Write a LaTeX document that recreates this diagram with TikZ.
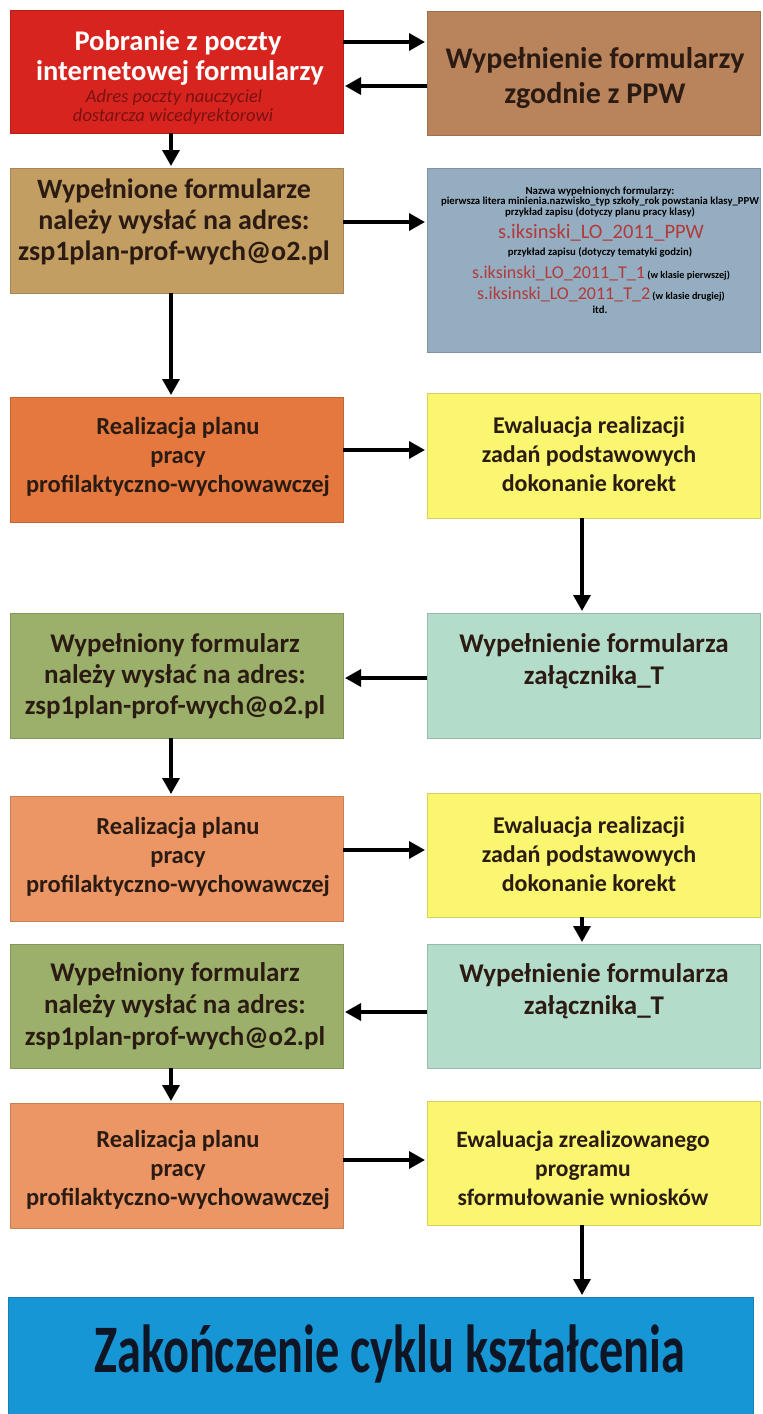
\documentclass[tikz,border=0pt]{standalone}
\usepackage{fontspec}
\setmainfont{Carlito}
\usepackage{graphicx}
\usetikzlibrary{arrows.meta}
\definecolor{cRed}{HTML}{D8241E}
\definecolor{cBrown}{HTML}{B9845C}
\definecolor{cTan}{HTML}{C39E62}
\definecolor{cInfo}{HTML}{95ADC1}
\definecolor{cOrange}{HTML}{E4783E}
\definecolor{cYellow}{HTML}{FAF670}
\definecolor{cGreen}{HTML}{9BB06A}
\definecolor{cTeal}{HTML}{B3DCCB}
\definecolor{cSalmon}{HTML}{EB9664}
\definecolor{cBlue}{HTML}{1796D6}
\definecolor{tDark}{HTML}{2B1B12}
\definecolor{tItal}{HTML}{7A1212}
\definecolor{tInfoRed}{HTML}{B23A3A}
\definecolor{tBlue}{HTML}{0E1626}
\newcommand\fs[1]{\fontsize{#1}{#1}\selectfont}
\begin{document}
\begin{tikzpicture}[x=1pt,y=-1pt,
  box/.style={rectangle, inner sep=0pt, outer sep=0pt, minimum width=333pt,
    minimum height=125pt, fill=#1, draw=#1!85!black, line width=0.6pt},
  tl/.style={anchor=base, inner sep=0pt, outer sep=0pt, text=tDark},
  tb/.style={tl, font=\bfseries\fs{28}},
  tr/.style={tl, font=\bfseries\fs{24.5}},
  ty/.style={tl, font=\bfseries\fs{24}},
  tz/.style={tl, font=\bfseries\fs{23.5}},
  tg/.style={tl, font=\bfseries\fs{27}},
  ib/.style={tl, text=black, font=\bfseries\fs{10.7}},
  arr/.style={line width=3.4pt, -{Triangle[length=16pt,width=17pt]}, shorten >=2pt}]
\useasboundingbox (0,0) rectangle (763,1414);
\fill[white] (0,0) rectangle (763,1414);

% boxes
\node[box=cRed, minimum height=123pt] (red) at (176.5,71.5) {};
\node[box=cBrown, minimum height=124pt] (brown) at (593.5,73) {};
\node[box=cTan] (tan) at (176.5,230.5) {};
\node[box=cInfo, minimum height=184pt] (info) at (593.5,260) {};
\node[box=cOrange] (or1) at (176.5,459.5) {};
\node[box=cYellow] (ye1) at (593.5,455.5) {};
\node[box=cGreen] (gr1) at (176.5,675.5) {};
\node[box=cTeal] (te1) at (593.5,675.5) {};
\node[box=cSalmon] (sa1) at (176.5,858.5) {};
\node[box=cYellow, minimum height=124pt] (ye2) at (593.5,855) {};
\node[box=cGreen, minimum height=124pt] (gr2) at (176.5,1006) {};
\node[box=cTeal, minimum height=124pt] (te2) at (593.5,1006) {};
\node[box=cSalmon] (sa2) at (176.5,1165.5) {};
\node[box=cYellow, minimum height=124pt] (ye3) at (593.5,1163) {};
\node[box=cBlue, minimum width=745pt, minimum height=117pt] (end) at (380.5,1355.5) {};

% red box text
\node[tl, text=white, font=\bfseries\fs{28.5}] (r1) at (178,50) {Pobranie z poczty};
\node[tl, text=white, font=\bfseries\fs{28.5}] (r2) at (180,80) {internetowej formularzy};
\node[tl, text=tItal, font=\itshape\fs{18.5}] (r3) at (174,102) {Adres poczty nauczyciel};
\node[tl, text=tItal, font=\itshape\fs{18.5}] (r4) at (173,121) {dostarcza wicedyrektorowi};

% brown box text
\node[tl, font=\bfseries\fs{30}] (b1) at (595,68) {Wypełnienie formularzy};
\node[tl, font=\bfseries\fs{30}] (b2) at (595,103) {zgodnie z PPW};

% tan box text
\node[tb] (t1) at (174,198) {Wypełnione formularze};
\node[tb] (t2) at (174,229) {należy wysłać na adres:};
\node[tb] (t3) at (174,260) {zsp1plan-prof-wych@o2.pl};

% info box text
\node[ib, font=\bfseries\fs{10.8}] (i1) at (600,194) {Nazwa wypełnionych formularzy:};
\node[ib] (i2) at (600,204.5) {pierwsza litera minienia.nazwisko\_typ szkoły\_rok powstania klasy\_PPW};
\node[ib] (i3) at (600,215) {przykład zapisu (dotyczy planu pracy klasy)};
\node[tl, text=tInfoRed, font=\fs{20.5}] (i4) at (601,238) {s.iksinski\_LO\_2011\_PPW};
\node[ib] (i5) at (600,255.5) {przykład zapisu (dotyczy tematyki godzin)};
\node[tl] (i6) at (601,278.5) {{\color{tInfoRed}\fs{18}s.iksinski\_LO\_2011\_T\_1} {\color{black}\bfseries\fs{10.2}(w klasie pierwszej)}};
\node[tl] (i7) at (601,299) {{\color{tInfoRed}\fs{18}s.iksinski\_LO\_2011\_T\_2} {\color{black}\bfseries\fs{10.2}(w klasie drugiej)}};
\node[ib] (i8) at (600,313.5) {itd.};

% row 3
\node[tr] (o1a) at (178,434) {Realizacja planu};
\node[tr] (o1b) at (178,463) {pracy};
\node[tr] (o1c) at (178,492) {profilaktyczno-wychowawczej};
\node[ty] (y1a) at (589,433) {Ewaluacja realizacji};
\node[ty] (y1b) at (589,462) {zadań podstawowych};
\node[ty] (y1c) at (589,491) {dokonanie korekt};

% row 4
\node[tg] (g1a) at (175,652) {Wypełniony formularz};
\node[tg] (g1b) at (175,683) {należy wysłać na adres:};
\node[tg] (g1c) at (175,714) {zsp1plan-prof-wych@o2.pl};
\node[tg] (e1a) at (594,652) {Wypełnienie formularza};
\node[tg] (e1b) at (594,684) {załącznika\_T};

% row 5
\node[tr] (o2a) at (178,834) {Realizacja planu};
\node[tr] (o2b) at (178,863) {pracy};
\node[tr] (o2c) at (178,892) {profilaktyczno-wychowawczej};
\node[ty] (y2a) at (589,833) {Ewaluacja realizacji};
\node[ty] (y2b) at (589,862) {zadań podstawowych};
\node[ty] (y2c) at (589,891) {dokonanie korekt};

% row 6
\node[tg] (g2a) at (175,981) {Wypełniony formularz};
\node[tg] (g2b) at (175,1013) {należy wysłać na adres:};
\node[tg] (g2c) at (175,1045) {zsp1plan-prof-wych@o2.pl};
\node[tg] (e2a) at (594,982) {Wypełnienie formularza};
\node[tg] (e2b) at (594,1014) {załącznika\_T};

% row 7
\node[tr] (o3a) at (178,1147) {Realizacja planu};
\node[tr] (o3b) at (178,1176) {pracy};
\node[tr] (o3c) at (178,1205) {profilaktyczno-wychowawczej};
\node[tz] (y3a) at (583,1147) {Ewaluacja zrealizowanego};
\node[tz] (y3b) at (583,1176) {programu};
\node[tz] (y3c) at (583,1205) {sformułowanie wniosków};

% final
\node[tl, text=tBlue] (endt) at (390,1372) {\scalebox{0.71}[1]{\bfseries\fs{68}Zakończenie cyklu kształcenia}};

% arrows
\draw[arr] (red.east |- 0,42) -- (brown.west |- 0,42);
\draw[arr] (brown.west |- 0,86) -- (red.east |- 0,86);
\draw[arr] (red.south -| 171,0) -- (tan.north -| 171,0);
\draw[arr] (tan.east |- 0,222) -- (info.west |- 0,222);
\draw[arr] (tan.south -| 171,0) -- (or1.north -| 171,0);
\draw[arr] (or1.east |- 0,450) -- (ye1.west |- 0,450);
\draw[arr] (ye1.south -| 582,0) -- (te1.north -| 582,0);
\draw[arr] (te1.west |- 0,678) -- (gr1.east |- 0,678);
\draw[arr] (gr1.south -| 171,0) -- (sa1.north -| 171,0);
\draw[arr] (sa1.east |- 0,850) -- (ye2.west |- 0,850);
\draw[arr] (ye2.south -| 582,0) -- (te2.north -| 582,0);
\draw[arr] (te2.west |- 0,1012) -- (gr2.east |- 0,1012);
\draw[arr] (gr2.south -| 171,0) -- (sa2.north -| 171,0);
\draw[arr] (sa2.east |- 0,1160) -- (ye3.west |- 0,1160);
\draw[arr] (ye3.south -| 582,0) -- (end.north -| 582,0);
\end{tikzpicture}
\end{document}
